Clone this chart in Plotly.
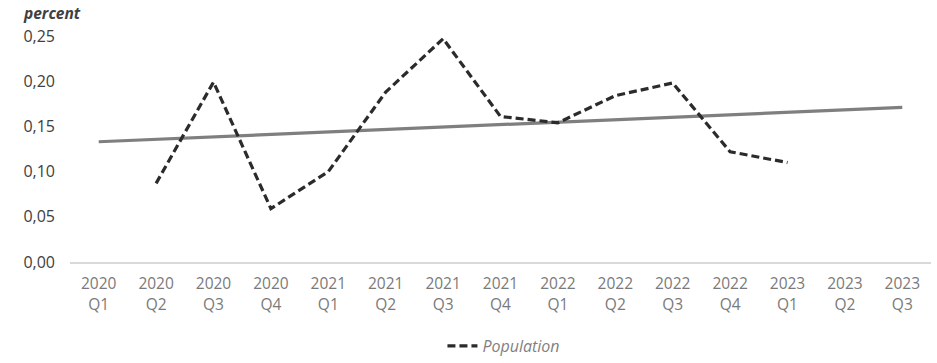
import plotly.graph_objects as go

categories = ["2020 Q1", "2020 Q2", "2020 Q3", "2020 Q4",
              "2021 Q1", "2021 Q2", "2021 Q3", "2021 Q4",
              "2022 Q1", "2022 Q2", "2022 Q3", "2022 Q4",
              "2023 Q1", "2023 Q2", "2023 Q3"]
tick_labels = [c.replace(" ", "<br>") for c in categories]

pop_categories = categories[1:13]
population = [0.087, 0.199, 0.059, 0.100, 0.188, 0.247,
              0.161, 0.154, 0.184, 0.198, 0.122, 0.110]

trend_categories = ["2020 Q1", "2023 Q3"]
trend_values = [0.133, 0.171]

y_ticks = [0, 0.05, 0.10, 0.15, 0.20, 0.25]

fig = go.Figure()
fig.add_trace(go.Scatter(
    x=trend_categories, y=trend_values, mode="lines",
    line=dict(color="#7f7f7f", width=3.2), showlegend=False,
    hoverinfo="skip"))
fig.add_trace(go.Scatter(
    x=pop_categories, y=population, mode="lines", name="Population",
    line=dict(color="#2b2b2b", width=3.2, dash="8px,4px")))

fig.update_layout(
    width=937, height=363,
    margin=dict(l=70, r=6, t=36, b=101, autoexpand=False),
    paper_bgcolor="white", plot_bgcolor="white",
    separators=",.",
    font=dict(family="Open Sans", size=15, color="#404040"),
    xaxis=dict(
        type="category", categoryorder="array", categoryarray=categories,
        tickmode="array", tickvals=categories, ticktext=tick_labels,
        range=[-0.5, len(categories) - 0.5], automargin=False,
        showgrid=False, showline=True, linecolor="#d9d9d9", linewidth=1.5,
        ticks="", tickfont=dict(size=15.5, color="#7a7a7a"),
        ticklabelstandoff=7),
    yaxis=dict(
        range=[0, 0.25], tickvals=y_ticks, tickformat=".2f", automargin=False,
        showgrid=False, zeroline=False, showline=False, ticks="",
        tickfont=dict(size=16, color="#404040"), ticklabelstandoff=14),
    legend=dict(
        orientation="h", x=0.504, xanchor="center",
        yref="container", y=0.0, yanchor="bottom",
        font=dict(size=16, color="#7f7f7f", style="italic")),
    annotations=[dict(
        text="<b><i>percent</i></b>", xref="paper", yref="paper",
        x=0, y=1, xanchor="left", yanchor="middle", xshift=-49, yshift=23,
        showarrow=False, font=dict(size=15.5, color="#404040"))],
)

fig.write_html("out.html")
